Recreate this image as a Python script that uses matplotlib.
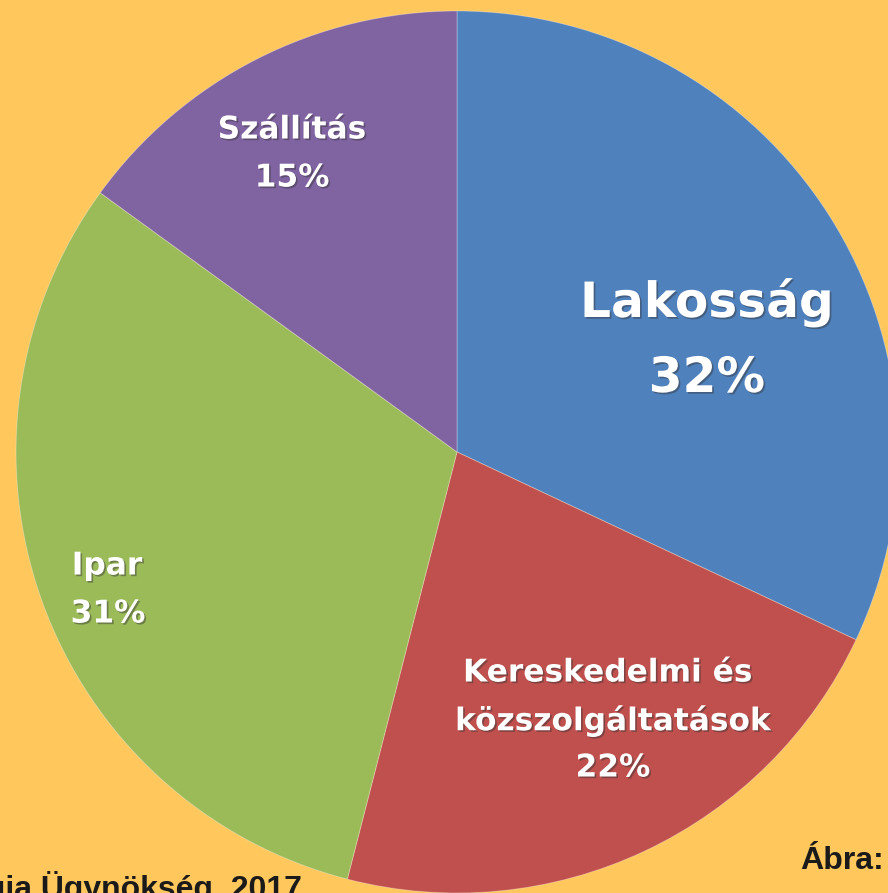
import matplotlib
matplotlib.use("Agg")
import matplotlib.pyplot as plt
import matplotlib.patheffects as pe

categories = ["Lakosság", "Kereskedelmi és\nközszolgáltatások", "Ipar", "Szállítás"]
values = [32, 22, 31, 15]
colors = ["#4F81BD", "#C0504D", "#9BBB59", "#8064A2"]
bg = "#FFC75C"

W, H = 888, 893
fig = plt.figure(figsize=(W / 100, H / 100), dpi=100, facecolor=bg)
ax = fig.add_axes([0, 0, 1, 1])
ax.set_facecolor(bg)

cx, cy, r = 457, H - 452, 441
ax.pie(values, colors=colors, startangle=90, counterclock=False,
       radius=r, center=(cx, cy), frame=True,
       wedgeprops=dict(edgecolor=(1, 1, 1, 0.3), linewidth=0.7))
ax.set_xlim(0, W)
ax.set_ylim(0, H)
ax.set_aspect("equal")
ax.axis("off")

shadow = [pe.withSimplePatchShadow(offset=(1.2, -1.2), shadow_rgbFace="#333333", alpha=0.45)]
font = "DejaVu Sans"

def lab(x, y, s, size):
    ax.text(x, H - y, s, ha="center", va="center", color="white",
            fontsize=size, fontweight="bold", family=font, path_effects=shadow)

lab(707, 302, "Lakosság", 35)
lab(707, 378, f"{values[0]}%", 35)
lab(292, 130, "Szállítás", 22.5)
lab(292, 178, f"{values[3]}%", 22.5)
lab(107, 566, "Ipar", 22.5)
lab(108, 614, f"{values[2]}%", 22.5)
lab(608, 673, "Kereskedelmi és", 22.5)
lab(613, 721, "közszolgáltatások", 22.5)
lab(613, 768, f"{values[1]}%", 22.5)

ax.text(800, H - 869, "Ábra:", ha="left", va="baseline", color="#1a1a1a",
        fontsize=23, fontweight="bold", family="Liberation Sans")
ax.text(302, H - 898, "Forrás: Nemzetközi Energia Ügynökség, 2017", ha="right",
        va="baseline", color="#1a1a1a", fontsize=23, fontweight="bold",
        family="Liberation Sans")

fig.savefig("out.png", dpi=100, facecolor=bg)
